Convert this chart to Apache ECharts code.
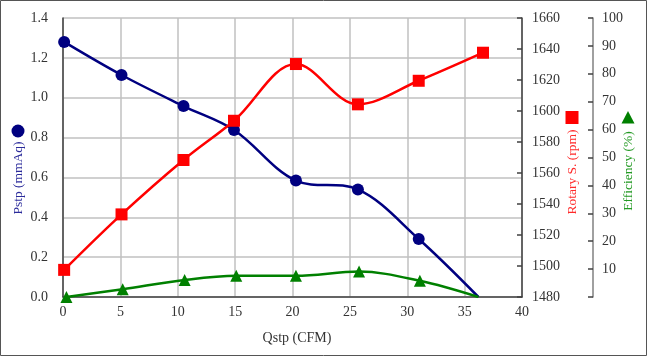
<!DOCTYPE html>
<html><head><meta charset="utf-8">
<script src="https://cdn.jsdelivr.net/npm/echarts@6/dist/echarts.min.js"></script>
<style>html,body{margin:0;padding:0;background:#fff}#c{width:647px;height:356px}</style>
</head><body><div id="c"></div>
<script>
// Data
const xPstp = [0.1, 5.1, 10.5, 14.9, 20.3, 25.7, 31.0, 36.2];
const pstp = [1.28, 1.114, 0.958, 0.838, 0.584, 0.540, 0.291, 0.0];
const xRot = [0.1, 5.1, 10.5, 14.9, 20.3, 25.7, 31.0, 36.6];
const rotary = [1497.5, 1533.3, 1568.4, 1593.7, 1630.3, 1604.3, 1619.5, 1637.6];
const xEff = [0.3, 5.2, 10.6, 15.1, 20.3, 25.8, 31.1, 36.2];
const efficiency = [0, 2.8, 6.1, 7.6, 7.6, 9.1, 5.8, 0];

const FONT = 'Liberation Serif';
const navy = '#000080', red = '#ff0000', green = '#008000';

function pts(xs, ys, lastHidden) {
  return xs.map((x, i) => {
    const d = { value: [x, ys[i]] };
    if (lastHidden && i === xs.length - 1) d.symbol = 'none';
    return d;
  });
}

const chart = echarts.init(document.getElementById('c'), null, { renderer: 'canvas' });
const lbl = { fontFamily: FONT, fontSize: 14, color: '#333' };
chart.setOption({
  animation: false,
  backgroundColor: '#fff',
  grid: { left: 63, right: 125, top: 18, bottom: 59, containLabel: false },
  xAxis: {
    type: 'value', min: 0, max: 40, interval: 5,
    axisLine: { show: true, onZero: false, lineStyle: { color: '#404040', width: 1.5 } },
    axisTick: { show: false },
    axisLabel: Object.assign({ margin: 8, formatter: v => String(v) }, lbl),
    splitLine: { show: true, lineStyle: { color: '#c0c0c0', width: 1.5 } }
  },
  yAxis: [
    {
      type: 'value', min: 0, max: 1.4, interval: 0.2, position: 'left',
      axisLine: { show: true, lineStyle: { color: '#404040', width: 1.5 } },
      axisTick: { show: false },
      axisLabel: Object.assign({ margin: 15, formatter: v => v.toFixed(1) }, lbl),
      splitLine: { show: true, lineStyle: { color: '#c0c0c0', width: 1.5 } }
    },
    {
      type: 'value', min: 1480, max: 1660, interval: 20, position: 'right',
      axisLine: { show: true, lineStyle: { color: '#404040', width: 1.5 } },
      axisTick: { show: true, inside: true, length: 5, lineStyle: { color: '#404040', width: 1.5 } },
      axisLabel: Object.assign({ margin: 10, formatter: v => String(v) }, lbl),
      splitLine: { show: false }
    },
    {
      type: 'value', min: 0, max: 100, interval: 10, position: 'right', offset: 71,
      axisLine: { show: true, lineStyle: { color: '#808080', width: 1.5 } },
      axisTick: { show: true, inside: true, length: 5, lineStyle: { color: '#404040', width: 1.5 } },
      axisLabel: Object.assign({ margin: 9, formatter: v => v === 0 ? '' : String(v) }, lbl),
      splitLine: { show: false }
    }
  ],
  series: [
    {
      name: 'Pstp', type: 'line', yAxisIndex: 0, data: pts(xPstp, pstp, true),
      smooth: 0.35, symbol: 'circle', symbolSize: 12,
      lineStyle: { color: navy, width: 2.5 }, itemStyle: { color: navy }, z: 3
    },
    {
      name: 'Rotary', type: 'line', yAxisIndex: 1, data: pts(xRot, rotary, false),
      smooth: 0.35, symbol: 'rect', symbolSize: 12,
      lineStyle: { color: red, width: 2.5 }, itemStyle: { color: red }, z: 4
    },
    {
      name: 'Efficiency', type: 'line', yAxisIndex: 2, data: pts(xEff, efficiency, true),
      smooth: 0.35, symbol: 'triangle', symbolSize: 12,
      lineStyle: { color: green, width: 2.5 }, itemStyle: { color: green }, z: 5
    }
  ],
  graphic: [
    { type: 'rect', shape: { x: 0.5, y: 0.5, width: 646, height: 355 }, style: { fill: 'none', stroke: '#555', lineWidth: 1 }, silent: true },
    { type: 'text', x: 297, y: 338, style: { text: 'Qstp (CFM)', font: '14px "Liberation Serif"', fill: '#333', textAlign: 'center', textVerticalAlign: 'middle' } },
    { type: 'text', x: 18, y: 178, rotation: Math.PI / 2, style: { text: 'Pstp (mmAq)', font: '13.5px "Liberation Serif"', fill: '#2b2b9b', textAlign: 'center', textVerticalAlign: 'middle' } },
    { type: 'circle', shape: { cx: 18, cy: 131, r: 6.5 }, style: { fill: navy } },
    { type: 'text', x: 572, y: 172, rotation: Math.PI / 2, style: { text: 'Rotary S. (rpm)', font: '13.5px "Liberation Serif"', fill: '#ff2a2a', textAlign: 'center', textVerticalAlign: 'middle' } },
    { type: 'rect', shape: { x: 565.5, y: 111, width: 13, height: 13 }, style: { fill: red } },
    { type: 'text', x: 628, y: 171, rotation: Math.PI / 2, style: { text: 'Efficiency (%)', font: '13.5px "Liberation Serif"', fill: '#229922', textAlign: 'center', textVerticalAlign: 'middle' } },
    { type: 'polygon', shape: { points: [[628, 111], [634.5, 123.5], [621.5, 123.5]] }, style: { fill: green } }
  ]
});
</script>
</body></html>
